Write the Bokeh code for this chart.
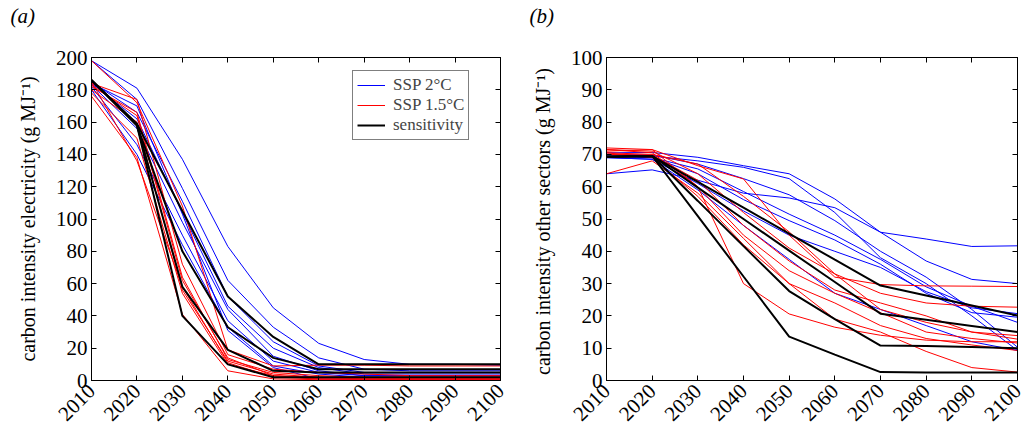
import math
from bokeh.plotting import figure
from bokeh.layouts import row, column
from bokeh.models import (LinearAxis, FixedTicker, Range1d, Legend, LegendItem, Label)
from bokeh.embed import file_html
from bokeh.resources import INLINE

years = [2010, 2020, 2030, 2040, 2050, 2060, 2070, 2080, 2090, 2100]

# (a) carbon intensity electricity (g MJ^-1)
elec_ssp2c = [
    [198, 181, 137, 83, 45, 23, 13, 10, 10, 9.5],
    [198, 174, 119, 62, 33, 14, 7, 6, 6, 6],
    [185, 166, 111, 52, 24, 9, 5, 5, 5, 5],
    [184, 162, 104, 46, 20, 8, 4, 4, 4, 4],
    [183, 156, 98, 44, 15, 6, 3, 3, 3, 3],
    [182, 146, 90, 37, 12, 5, 3, 3, 3, 3],
    [180, 140, 84, 33, 9, 4, 2, 2, 2, 2],
    [184, 170, 103, 31, 8, 1, 0.5, 0.5, 0.5, 0.5],
]
elec_ssp15c = [
    [198, 172, 108, 19, 9, 9.5, 9.5, 9, 9, 9],
    [184, 174, 72, 16, 7, 5, 4, 3, 3, 3],
    [182, 166, 64, 13, 5, 3, 2, 2, 2, 2],
    [180, 160, 56, 12, 4, 2, 1, 1, 1, 1],
    [178, 150, 54, 10, 3, 1, 1, 1, 1, 1],
    [176, 138, 41, 6, 1, 0.5, 0.5, 0.5, 0.5, 0.5],
    [183, 164, 62, 14, 3, 2, 2, 2, 2, 2],
    [185, 136, 58, 11, 2, 1, 1, 1, 1, 1],
]
elec_sens = [
    [186, 159, 105, 52, 27, 10, 10, 10, 10, 10],
    [186, 158, 80, 33, 14, 7, 7, 7, 7, 7],
    [186, 158, 58, 19, 6, 5, 5, 5, 5, 5],
    [186, 158, 40, 10, 2, 2, 2, 2, 2, 2],
]

# (b) carbon intensity other sectors (g MJ^-1)
other_ssp2c = [
    [70.5, 70.6, 69.1, 66.5, 64.0, 56.2, 45.9, 37.0, 31.3, 30.0],
    [64.0, 65.2, 62.0, 58.0, 56.5, 53.5, 45.9, 43.8, 41.5, 41.7],
    [70.0, 69.5, 68.0, 66.0, 62.5, 52.0, 38.0, 30.0, 20.0, 9.3],
    [70.0, 69.8, 67.0, 62.5, 57.5, 49.5, 40.0, 32.0, 22.0, 10.3],
    [69.5, 69.0, 65.5, 58.5, 51.5, 45.0, 37.5, 29.0, 23.0, 18.0],
    [69.5, 69.0, 64.0, 56.0, 49.5, 43.5, 36.0, 27.0, 21.0, 19.6],
    [69.0, 68.5, 61.0, 52.5, 45.0, 40.0, 35.0, 27.5, 22.5, 20.7],
    [69.0, 68.5, 59.0, 48.0, 37.5, 27.0, 22.0, 17.0, 12.0, 9.3],
]
other_ssp15c = [
    [71.0, 71.5, 66.5, 62.4, 45.0, 32.0, 29.7, 29.3, 29.2, 29.1],
    [71.5, 71.0, 64.0, 52.0, 41.0, 33.0, 27.0, 24.0, 23.0, 22.7],
    [70.5, 70.0, 67.0, 57.0, 46.0, 33.0, 22.0, 18.0, 15.0, 13.9],
    [70.0, 69.8, 62.0, 48.0, 37.0, 28.0, 24.0, 20.0, 15.0, 12.8],
    [71.5, 70.5, 60.0, 45.0, 34.0, 27.0, 21.0, 15.0, 13.0, 11.6],
    [70.5, 69.0, 57.0, 42.0, 30.0, 24.0, 17.0, 13.0, 11.0, 9.3],
    [72.0, 71.5, 60.0, 30.0, 20.6, 16.5, 14.0, 12.5, 12.0, 12.0],
    [64.0, 68.0, 58.0, 44.0, 30.0, 19.0, 15.0, 9.0, 4.0, 2.6],
]
other_sens = [
    [69.3, 69.5, 61.5, 53.5, 45.5, 37.4, 29.4, 26.3, 23.2, 20.1],
    [69.3, 69.5, 59.7, 50.0, 40.2, 30.5, 20.7, 18.8, 16.9, 15.0],
    [69.3, 69.5, 55.6, 41.6, 27.7, 19.0, 10.8, 10.7, 10.4, 10.0],
    [69.3, 69.5, 50.9, 32.2, 13.6, 8.0, 2.6, 2.5, 2.5, 2.5],
]

legend_labels = ["SSP 2\u00b0C", "SSP 1.5\u00b0C", "sensitivity"]
panel_tags = ["(a)", "(b)"]

FONT = "Liberation Serif"
TAG_H = 30


def style_axis(ax, show_labels=True):
    ax.axis_line_color = "black"
    ax.axis_line_width = 1
    ax.major_tick_in = 5
    ax.major_tick_out = 0
    ax.minor_tick_in = 0
    ax.minor_tick_out = 0
    ax.major_tick_line_color = "black"
    ax.major_label_text_font = FONT
    ax.major_label_text_color = "black"
    ax.major_label_text_font_size = "21px"
    ax.axis_label_text_font = FONT
    ax.axis_label_text_font_style = "normal"
    ax.axis_label_text_font_size = "20px"
    ax.axis_label_text_color = "black"
    if not show_labels:
        ax.major_label_text_font_size = "1px"
        ax.major_label_text_color = None
        ax.major_label_standoff = 0


def make_panel(ssp2, ssp15, sens, ymax, ystep, ylabel, bl, br, width, legend=False):
    p = figure(width=width, height=434 - TAG_H, output_backend="svg", toolbar_location=None,
               x_range=Range1d(2010, 2100), y_range=Range1d(0, ymax),
               min_border_left=bl, min_border_right=br, min_border_top=57 - TAG_H,
               min_border_bottom=54)
    p.grid.visible = False
    p.outline_line_color = "black"
    p.outline_line_width = 1
    p.background_fill_color = "white"
    p.border_fill_color = "white"

    p.xaxis.ticker = FixedTicker(ticks=years)
    p.yaxis.ticker = FixedTicker(ticks=list(range(0, ymax + 1, ystep)))
    for ax in p.xaxis:
        style_axis(ax)
        ax.major_label_orientation = math.pi / 4
        ax.major_label_standoff = 7
    for ax in p.yaxis:
        style_axis(ax)
        ax.major_label_standoff = 4
        ax.axis_label = ylabel
        ax.axis_label_standoff = 14

    top = LinearAxis(ticker=FixedTicker(ticks=years))
    style_axis(top, show_labels=False)
    p.add_layout(top, "above")
    right = LinearAxis(ticker=FixedTicker(ticks=list(range(0, ymax + 1, ystep))))
    style_axis(right, show_labels=False)
    p.add_layout(right, "right")

    reps = []
    first = None
    for s in ssp2:
        r = p.line(years, s, line_color="#0000ff", line_width=1)
        if first is None:
            first = r
    reps.append(first)
    first = None
    for s in ssp15:
        r = p.line(years, s, line_color="#ff0000", line_width=1)
        if first is None:
            first = r
    reps.append(first)
    first = None
    for s in sens:
        r = p.line(years, s, line_color="black", line_width=2)
        if first is None:
            first = r
    reps.append(first)

    if legend:
        items = [LegendItem(label=l, renderers=[r]) for l, r in zip(legend_labels, reps)]
        lg = Legend(items=items, location=(261, 240))
        lg.label_text_font = FONT
        lg.label_text_font_size = "17px"
        lg.label_height = 18
        lg.glyph_height = 18
        lg.glyph_width = 28
        lg.label_standoff = 8
        lg.spacing = 0
        lg.padding = 4
        lg.margin = 0
        lg.border_line_color = "black"
        lg.border_line_width = 1
        lg.background_fill_alpha = 1
        p.add_layout(lg, "center")
    return p


# strip holding the panel tags
tags = figure(width=1032, height=TAG_H, output_backend="svg", toolbar_location=None,
              x_range=Range1d(0, 1), y_range=Range1d(0, 1), min_border=0)
tags.axis.visible = False
tags.grid.visible = False
tags.outline_line_color = None
tags.background_fill_color = "white"
tags.border_fill_color = "white"
for tag, tx in zip(panel_tags, [10, 529]):
    tags.add_layout(Label(x=tx, y=TAG_H / 2, x_units="screen", y_units="screen",
                          text=tag, text_font=FONT, text_font_style="italic",
                          text_font_size="21px", text_baseline="middle",
                          text_color="black"))

p1 = make_panel(elec_ssp2c, elec_ssp15c, elec_sens, 200, 20,
                "carbon intensity electricity (g MJ\u207b\u00b9)", 91, 12, 512, legend=True)
p2 = make_panel(other_ssp2c, other_ssp15c, other_sens, 100, 10,
                "carbon intensity other sectors (g  MJ\u207b\u00b9)", 94, 15, 520)

layout = column(tags, row(p1, p2))
open("out.html", "w").write(file_html(layout, INLINE))
